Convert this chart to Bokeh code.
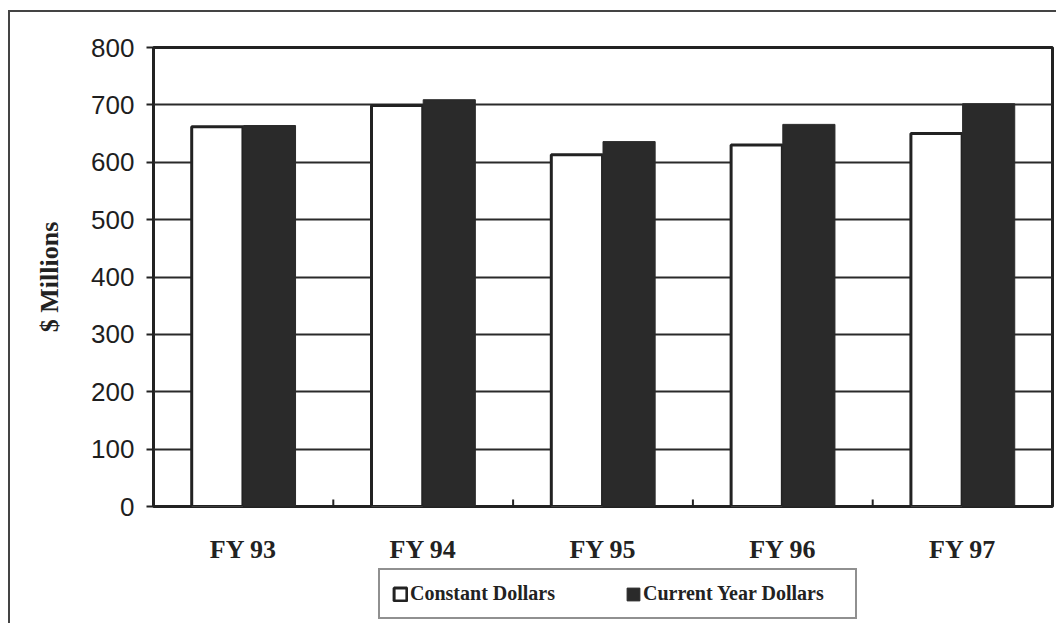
from bokeh.plotting import figure
from bokeh.layouts import column
from bokeh.models import (FactorRange, Range1d, ColumnDataSource, CategoricalAxis,
                          Legend, LegendItem, SingleIntervalTicker)
from bokeh.transform import dodge
from bokeh.embed import file_html
from bokeh.resources import INLINE

categories = ["FY 93", "FY 94", "FY 95", "FY 96", "FY 97"]
constant_dollars = [662, 699, 613, 630, 650]
current_dollars = [664, 709, 636, 666, 702]
series_names = ["Constant Dollars", "Current Year Dollars"]

src = ColumnDataSource(dict(cat=categories, const=constant_dollars, cur=current_dollars))

WHITE_STYLE = dict(fill_color="white", line_color="#222", line_width=3)
BLACK_STYLE = dict(fill_color="#2a2a2a", line_color="#2a2a2a", line_width=1)

p = figure(x_range=FactorRange(*categories), y_range=Range1d(0, 800),
           width=1046, height=554, frame_width=899, frame_height=459,
           output_backend="svg", toolbar_location=None,
           x_axis_location=None, min_border_left=143, min_border_top=35,
           min_border_right=4, min_border_bottom=60)

p.outline_line_color = "#222"
p.outline_line_width = 3
p.background_fill_color = "white"
p.border_fill_color = "white"

p.xgrid.grid_line_color = None
p.ygrid.grid_line_color = "#2a2a2a"
p.ygrid.grid_line_width = 2
p.ygrid.ticker = SingleIntervalTicker(interval=100)

yax = p.yaxis[0]
yax.ticker = SingleIntervalTicker(interval=100)
yax.minor_tick_line_color = None
yax.major_tick_out = 7
yax.major_tick_in = 0
yax.major_tick_line_color = "#222"
yax.major_tick_line_width = 2
yax.axis_line_color = None
yax.major_label_text_font = "Liberation Sans"
yax.major_label_text_font_size = "26px"
yax.major_label_text_color = "#1e1e1e"
yax.major_label_standoff = 12
yax.axis_label = "$ Millions"
yax.axis_label_text_font = "Liberation Serif"
yax.axis_label_text_font_style = "bold"
yax.axis_label_text_font_size = "26px"
yax.axis_label_text_color = "#222"
yax.axis_label_standoff = 24

p.vbar(x=dodge("cat", -0.145, range=p.x_range), top="const", width=0.285, source=src,
       **WHITE_STYLE)
p.vbar(x=dodge("cat", 0.145, range=p.x_range), top="cur", width=0.29, source=src,
       **BLACK_STYLE)

# inward ticks at category boundaries (right edge of each category but the last)
bsrc = ColumnDataSource(dict(cat=categories[:-1], y0=[0] * (len(categories) - 1),
                             y1=[12] * (len(categories) - 1)))
p.segment(x0=dodge("cat", 0.5, range=p.x_range), x1=dodge("cat", 0.5, range=p.x_range),
          y0="y0", y1="y1", source=bsrc, line_color="#222", line_width=2)

xax = CategoricalAxis()
xax.axis_line_color = None
xax.major_tick_line_color = None
xax.minor_tick_line_color = None
xax.major_label_text_font = "Liberation Serif"
xax.major_label_text_font_style = "bold"
xax.major_label_text_font_size = "26px"
xax.major_label_text_color = "#222"
xax.major_label_standoff = 22
p.add_layout(xax, "below")

# legend strip below the chart (its renderers are hidden; only legend glyphs show)
lf = figure(x_range=p.x_range, y_range=Range1d(-1000, -990), width=1046, height=57,
            output_backend="svg", toolbar_location=None,
            x_axis_location=None, y_axis_location=None,
            min_border_left=0, min_border_right=0, min_border_top=0, min_border_bottom=0)
lf.outline_line_color = None
lf.grid.grid_line_color = None
lf.background_fill_color = "white"
lf.border_fill_color = "white"
l1 = lf.vbar(x=dodge("cat", -0.145, range=lf.x_range), top="const", width=0.285,
             source=src, visible=False, **WHITE_STYLE)
l2 = lf.vbar(x=dodge("cat", 0.145, range=lf.x_range), top="cur", width=0.29,
             source=src, visible=False, **BLACK_STYLE)

legend = Legend(items=[LegendItem(label=series_names[0], renderers=[l1]),
                       LegendItem(label=series_names[1], renderers=[l2])],
                orientation="horizontal", location=(225, 4))
legend.label_text_font = "Liberation Serif"
legend.label_text_font_style = "bold"
legend.label_text_font_size = "20px"
legend.label_text_color = "#222"
legend.glyph_width = 16
legend.glyph_height = 16
legend.label_standoff = 2
legend.label_width = 200
legend.spacing = 15
legend.padding = 12
legend.margin = 0
legend.border_line_color = "#222"
legend.border_line_width = 2
lf.add_layout(legend, "center")

layout = column(p, lf, spacing=0)
layout.margin = (10, 0, 0, 8)
layout.styles = {"border-left": "2px solid #444", "border-top": "2px solid #444"}

open("out.html", "w").write(file_html(layout, INLINE))
